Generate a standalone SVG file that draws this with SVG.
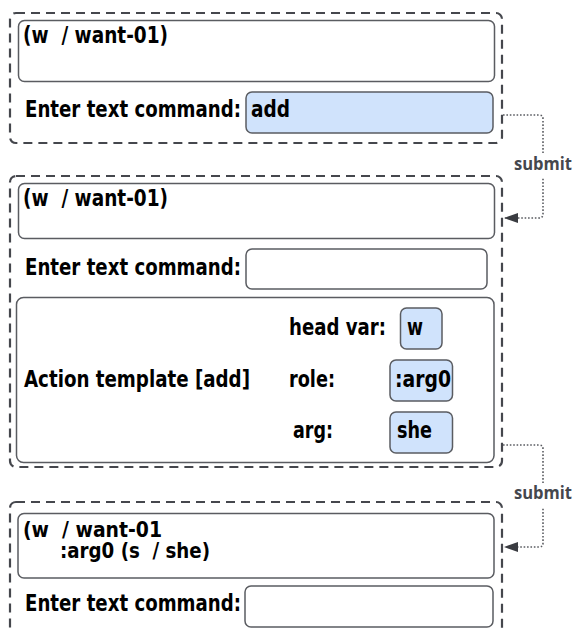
<svg xmlns="http://www.w3.org/2000/svg" width="576" height="632" viewBox="0 0 576 632">
<defs>
<style>
.outer{fill:none;stroke:#45474d;stroke-width:2.2;stroke-dasharray:9 6}
.box{fill:#fff;stroke:#5a5c61;stroke-width:1.5}
.inp{fill:#fff;stroke:#5a5c61;stroke-width:1.5}
.blue{fill:#d0e3fc;stroke:#5a5c61;stroke-width:1.5}
.t{font-family:"DejaVu Sans Condensed","DejaVu Sans",sans-serif;font-stretch:condensed;font-weight:bold;font-size:23px;fill:#000;white-space:pre}
.t2{font-size:21.5px}
.lbl{font-family:"Open Sans","Liberation Sans",sans-serif;font-weight:bold;font-size:17px;fill:#45474d;text-anchor:middle}
.con{fill:none;stroke:#5a5c61;stroke-width:1.6;stroke-dasharray:1.6 1.8}
</style>
<marker id="arr" markerWidth="14" markerHeight="10" refX="13" refY="5" orient="auto" markerUnits="userSpaceOnUse">
<path d="M0,0 L14,5 L0,10 Z" fill="#3a3c41"/>
</marker>
</defs>

<g id="state1">
<rect class="outer" x="10" y="13" width="492" height="130" rx="6"/>
<rect class="box" x="18.5" y="20.5" width="476" height="61" rx="6"/>
<text class="t" x="23" y="43" textLength="145" lengthAdjust="spacingAndGlyphs">(w  / want-01)</text>
<text class="t" x="25" y="117" textLength="216" lengthAdjust="spacingAndGlyphs">Enter text command:</text>
<rect class="blue" x="246" y="92" width="247" height="41" rx="6"/>
<text class="t" x="251" y="117" textLength="39" lengthAdjust="spacingAndGlyphs">add</text>
</g>

<g id="state2">
<rect class="outer" x="10" y="176" width="492" height="291" rx="6"/>
<rect class="box" x="18.5" y="183.5" width="476" height="55" rx="6"/>
<text class="t" x="23" y="206" textLength="145" lengthAdjust="spacingAndGlyphs">(w  / want-01)</text>
<text class="t" x="25" y="275" textLength="216" lengthAdjust="spacingAndGlyphs">Enter text command:</text>
<rect class="inp" x="246" y="249" width="241" height="40" rx="6"/>
<g id="template">
<rect class="box" x="16.5" y="297.5" width="477.5" height="165" rx="7"/>
<text class="t" x="24" y="387" textLength="226" lengthAdjust="spacingAndGlyphs">Action template [add]</text>
<text class="t" x="289" y="335" textLength="97" lengthAdjust="spacingAndGlyphs">head var:</text>
<rect class="blue" x="400.5" y="308" width="41.5" height="41" rx="6"/>
<text class="t" x="407" y="335" textLength="16" lengthAdjust="spacingAndGlyphs">w</text>
<text class="t" x="289" y="387" textLength="46" lengthAdjust="spacingAndGlyphs">role:</text>
<rect class="blue" x="390" y="360" width="62.5" height="41" rx="6"/>
<text class="t" x="395" y="387" textLength="56" lengthAdjust="spacingAndGlyphs">:arg0</text>
<text class="t" x="293" y="438" textLength="40" lengthAdjust="spacingAndGlyphs">arg:</text>
<rect class="blue" x="390" y="412" width="62.5" height="41" rx="6"/>
<text class="t" x="397" y="438" textLength="35" lengthAdjust="spacingAndGlyphs">she</text>
</g>
</g>

<g id="state3">
<rect class="outer" x="10" y="502" width="492" height="133" rx="6"/>
<rect class="box" x="18" y="513.5" width="476" height="64.5" rx="6"/>
<text class="t t2" x="23" y="537" textLength="139" lengthAdjust="spacingAndGlyphs">(w  / want-01</text>
<text class="t t2" x="60" y="558" textLength="150" lengthAdjust="spacingAndGlyphs">:arg0 (s  / she)</text>
<text class="t" x="25" y="611" textLength="216" lengthAdjust="spacingAndGlyphs">Enter text command:</text>
<rect class="inp" x="245" y="586" width="248" height="41" rx="6"/>
</g>

<g id="connectors">
<path class="con" d="M503,115 H539 Q543,115 543,119 V214 Q543,218 539,218 H505" marker-end="url(#arr)"/>
<rect x="512" y="154" width="62" height="24" fill="#fff"/>
<text class="lbl" x="543" y="170" textLength="58" lengthAdjust="spacingAndGlyphs">submit</text>
<path class="con" d="M503,445 H539 Q543,445 543,449 V543 Q543,547 539,547 H505" marker-end="url(#arr)"/>
<rect x="512" y="483" width="62" height="24" fill="#fff"/>
<text class="lbl" x="543" y="499" textLength="58" lengthAdjust="spacingAndGlyphs">submit</text>
</g>
</svg>
